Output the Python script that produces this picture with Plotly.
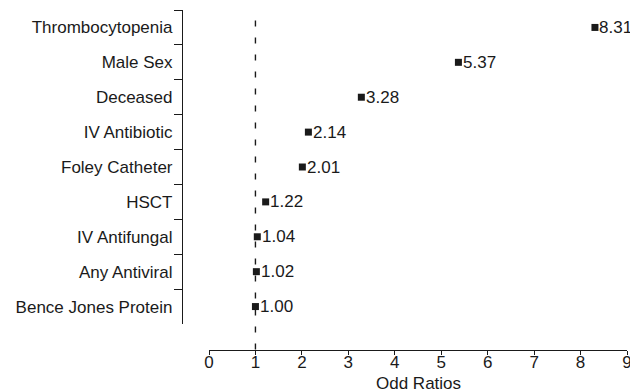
import plotly.graph_objects as go

categories = ["Thrombocytopenia", "Male Sex", "Deceased", "IV Antibiotic",
              "Foley Catheter", "HSCT", "IV Antifungal", "Any Antiviral",
              "Bence Jones Protein"]
odds_ratios = [8.31, 5.37, 3.28, 2.14, 2.01, 1.22, 1.04, 1.02, 1.00]
x_ticks = [0, 1, 2, 3, 4, 5, 6, 7, 8, 9]
x_title = "Odd Ratios"
reference_value = 1

W, H = 630, 392
FONT = "Liberation Sans, Arial, Helvetica, sans-serif"
INK = "#1a1a1a"
FS = 17

fig = go.Figure()
fig.add_trace(go.Scatter(
    x=odds_ratios, y=categories,
    mode="markers",
    marker=dict(symbol="square", size=7, color=INK),
    cliponaxis=False,
    showlegend=False,
))

for cat, v in zip(categories, odds_ratios):
    fig.add_annotation(x=v, y=cat, xref="x", yref="y", text=f"{v:.2f}",
                       xanchor="left", yanchor="middle", xshift=2.5, yshift=0,
                       showarrow=False,
                       font=dict(family=FONT, size=FS, color=INK))

x_axis_pos = 1 - 349.5 / H
fig.add_shape(type="line", xref="x", yref="paper",
              x0=reference_value, x1=reference_value,
              y0=x_axis_pos, y1=1 - 14 / H,
              line=dict(color=INK, width=1.4, dash="6px,11px"))

fig.add_annotation(text=x_title, xref="paper", yref="paper",
                   x=(209 + 627) / 2 / W, y=1 - 383 / H,
                   xanchor="center", yanchor="middle", showarrow=False,
                   font=dict(family=FONT, size=FS, color=INK))

fig.update_layout(
    width=W, height=H,
    margin=dict(l=0, r=0, t=0, b=0),
    paper_bgcolor="white", plot_bgcolor="white",
    font=dict(family=FONT, size=FS, color=INK),
    xaxis=dict(
        domain=[209 / W, 627 / W], range=[0, 9],
        anchor="free", position=x_axis_pos,
        tickvals=x_ticks, ticktext=[str(t) for t in x_ticks],
        showline=True, linecolor=INK, linewidth=1.2,
        ticks="outside", ticklen=4, tickcolor=INK, tickwidth=1,
        ticklabelstandoff=-7, ticklabeloverflow="allow",
        showgrid=False, zeroline=False,
        automargin=False,
    ),
    yaxis=dict(
        domain=[1 - 324 / H, 1 - 10 / H],
        type="category", categoryorder="array", categoryarray=categories,
        range=[len(categories) - 0.5, -0.5],
        anchor="free", position=182 / W,
        showline=True, linecolor=INK, linewidth=1.2,
        ticks="outside", ticklen=8, tickcolor=INK, tickwidth=1,
        tickson="boundaries", ticklabelstandoff=6,
        showgrid=False, zeroline=False,
        automargin=False,
    ),
)

fig.write_html("out.html", config={"displayModeBar": False},
               post_script="document.body.style.margin='0px';document.body.style.overflow='hidden';")
